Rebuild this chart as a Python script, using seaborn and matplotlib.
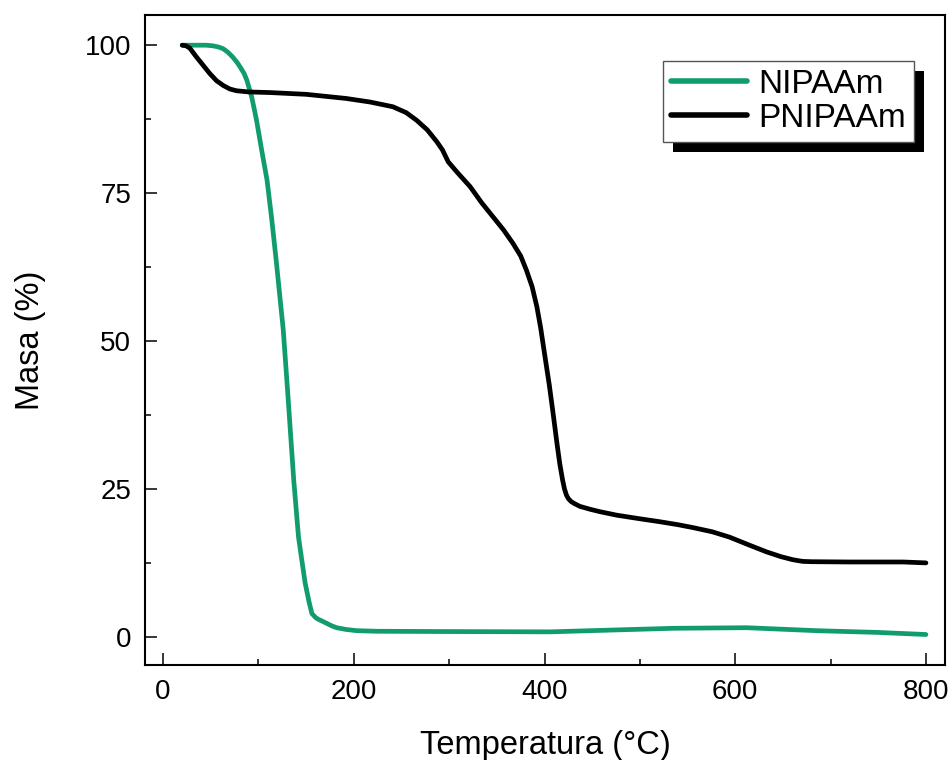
import numpy as np
import pandas as pd
import matplotlib
matplotlib.use("Agg")
import matplotlib.pyplot as plt
import seaborn as sns
from matplotlib.patches import Rectangle
from matplotlib.transforms import IdentityTransform
from matplotlib.ticker import MultipleLocator

# ---- data ----
nipaam_T = [20, 35, 45, 52, 58, 63, 68, 73, 78, 82, 85, 88, 93, 98, 103, 109,
            114, 119, 126, 131, 137, 142, 146, 149, 153, 156, 160, 163, 167,
            172, 177, 182, 192, 203, 224, 300, 406, 470, 535, 612, 685, 750,
            800]
nipaam_M = [100, 100, 100, 99.9, 99.7, 99.4, 98.8, 98, 97, 96, 95.2, 94, 91.2,
            87.3, 82.6, 77.2, 70.5, 63, 51.9, 40.6, 26.5, 16.9, 12.4, 9.1, 6.0,
            4.0, 3.3, 3.0, 2.7, 2.3, 1.9, 1.6, 1.3, 1.1, 1.0, 0.95, 0.9, 1.2,
            1.5, 1.6, 1.1, 0.8, 0.45]

pnipaam_T = [20, 24, 28, 35, 42, 49, 56, 63, 70, 77, 90, 112, 150, 192, 217,
             241, 255, 266, 277, 287, 293, 299, 308, 322, 334, 346, 357, 367,
             375, 381, 387, 392, 396, 400, 405, 409, 413, 416, 419, 421, 423,
             425, 428, 431, 437, 448, 458, 476, 500, 521, 540, 556, 576, 594,
             614, 633, 648, 660, 667, 671, 680, 720, 776, 800]
pnipaam_M = [100, 99.9, 99.5, 98, 96.6, 95.2, 94, 93.2, 92.6, 92.3, 92.1, 92.0,
             91.7, 91.0, 90.4, 89.6, 88.6, 87.3, 85.7, 83.7, 82.3, 80.3, 78.6,
             76.1, 73.4, 71, 68.8, 66.5, 64.4, 62, 59.2, 55.8, 52.2, 47.9, 42.6,
             37.8, 32.8, 29.3, 26.5, 25, 24.0, 23.4, 22.9, 22.6, 22.1, 21.6,
             21.2, 20.6, 20.0, 19.5, 19.0, 18.5, 17.8, 16.9, 15.6, 14.4, 13.6,
             13.1, 12.9, 12.8, 12.75, 12.7, 12.7, 12.55]

series_names = ["NIPAAm", "PNIPAAm"]
series_colors = ["#119C6E", "#000000"]

x_label = "Temperatura (°C)"
y_label = "Masa (%)"

df = pd.concat([
    pd.DataFrame({"T": nipaam_T, "M": nipaam_M, "s": series_names[0]}),
    pd.DataFrame({"T": pnipaam_T, "M": pnipaam_M, "s": series_names[1]}),
], ignore_index=True)

sns.set_theme(style="ticks")
plt.rcParams["font.family"] = ["Liberation Sans", "DejaVu Sans"]
plt.rcParams["text.color"] = "black"
plt.rcParams["axes.labelcolor"] = "black"
plt.rcParams["xtick.color"] = "black"
plt.rcParams["ytick.color"] = "black"

fig = plt.figure(figsize=(9.5, 7.6), dpi=100)
ax = fig.add_axes([145 / 950, 1 - 665 / 760, 800 / 950, 650 / 760])

sns.lineplot(data=df, x="T", y="M", hue="s", palette=series_colors,
             hue_order=series_names, linewidth=3.4, ax=ax, sort=False,
             estimator=None)
for ln in ax.get_lines():
    ln.set_solid_joinstyle("round")
    ln.set_solid_capstyle("round")

ax.set_xlim(-19, 820)
ax.set_ylim(-4.7, 105.1)
ax.xaxis.set_major_locator(MultipleLocator(200))
ax.xaxis.set_minor_locator(MultipleLocator(100))
ax.yaxis.set_major_locator(MultipleLocator(25))
ax.yaxis.set_minor_locator(MultipleLocator(12.5))

ax.tick_params(which="both", direction="in", top=False, right=False,
               width=1.1, color="black", labelcolor="black")
ax.tick_params(which="major", length=8.4, labelsize=20, pad=10)
ax.tick_params(which="minor", length=4)
for sp in ax.spines.values():
    sp.set_linewidth(1.5)
    sp.set_color("black")

ax.set_xlabel(x_label, fontsize=23.5, labelpad=18, color="black")
ax.set_ylabel(y_label, fontsize=23.5, labelpad=28, color="black")

handles, labels = ax.get_legend_handles_labels()
leg = ax.legend(handles, labels, loc="upper left",
                bbox_to_anchor=(0.647, 0.929), borderaxespad=0,
                fontsize=24, handlelength=2.3, handletextpad=0.32,
                borderpad=0.24, labelspacing=0.08, fancybox=False,
                framealpha=1, edgecolor="#555555")
leg.get_frame().set_linewidth(1.0)
for line in leg.get_lines():
    line.set_linewidth(4)
for t in leg.get_texts():
    t.set_color("black")

fig.canvas.draw()
bb = leg.get_window_extent()
shadow = Rectangle((bb.x0 + 10, bb.y0 - 10), bb.width, bb.height,
                   transform=IdentityTransform(), facecolor="black",
                   edgecolor="none", zorder=leg.get_zorder() - 0.1)
ax.add_artist(shadow)

fig.savefig("out.png", dpi=100)
